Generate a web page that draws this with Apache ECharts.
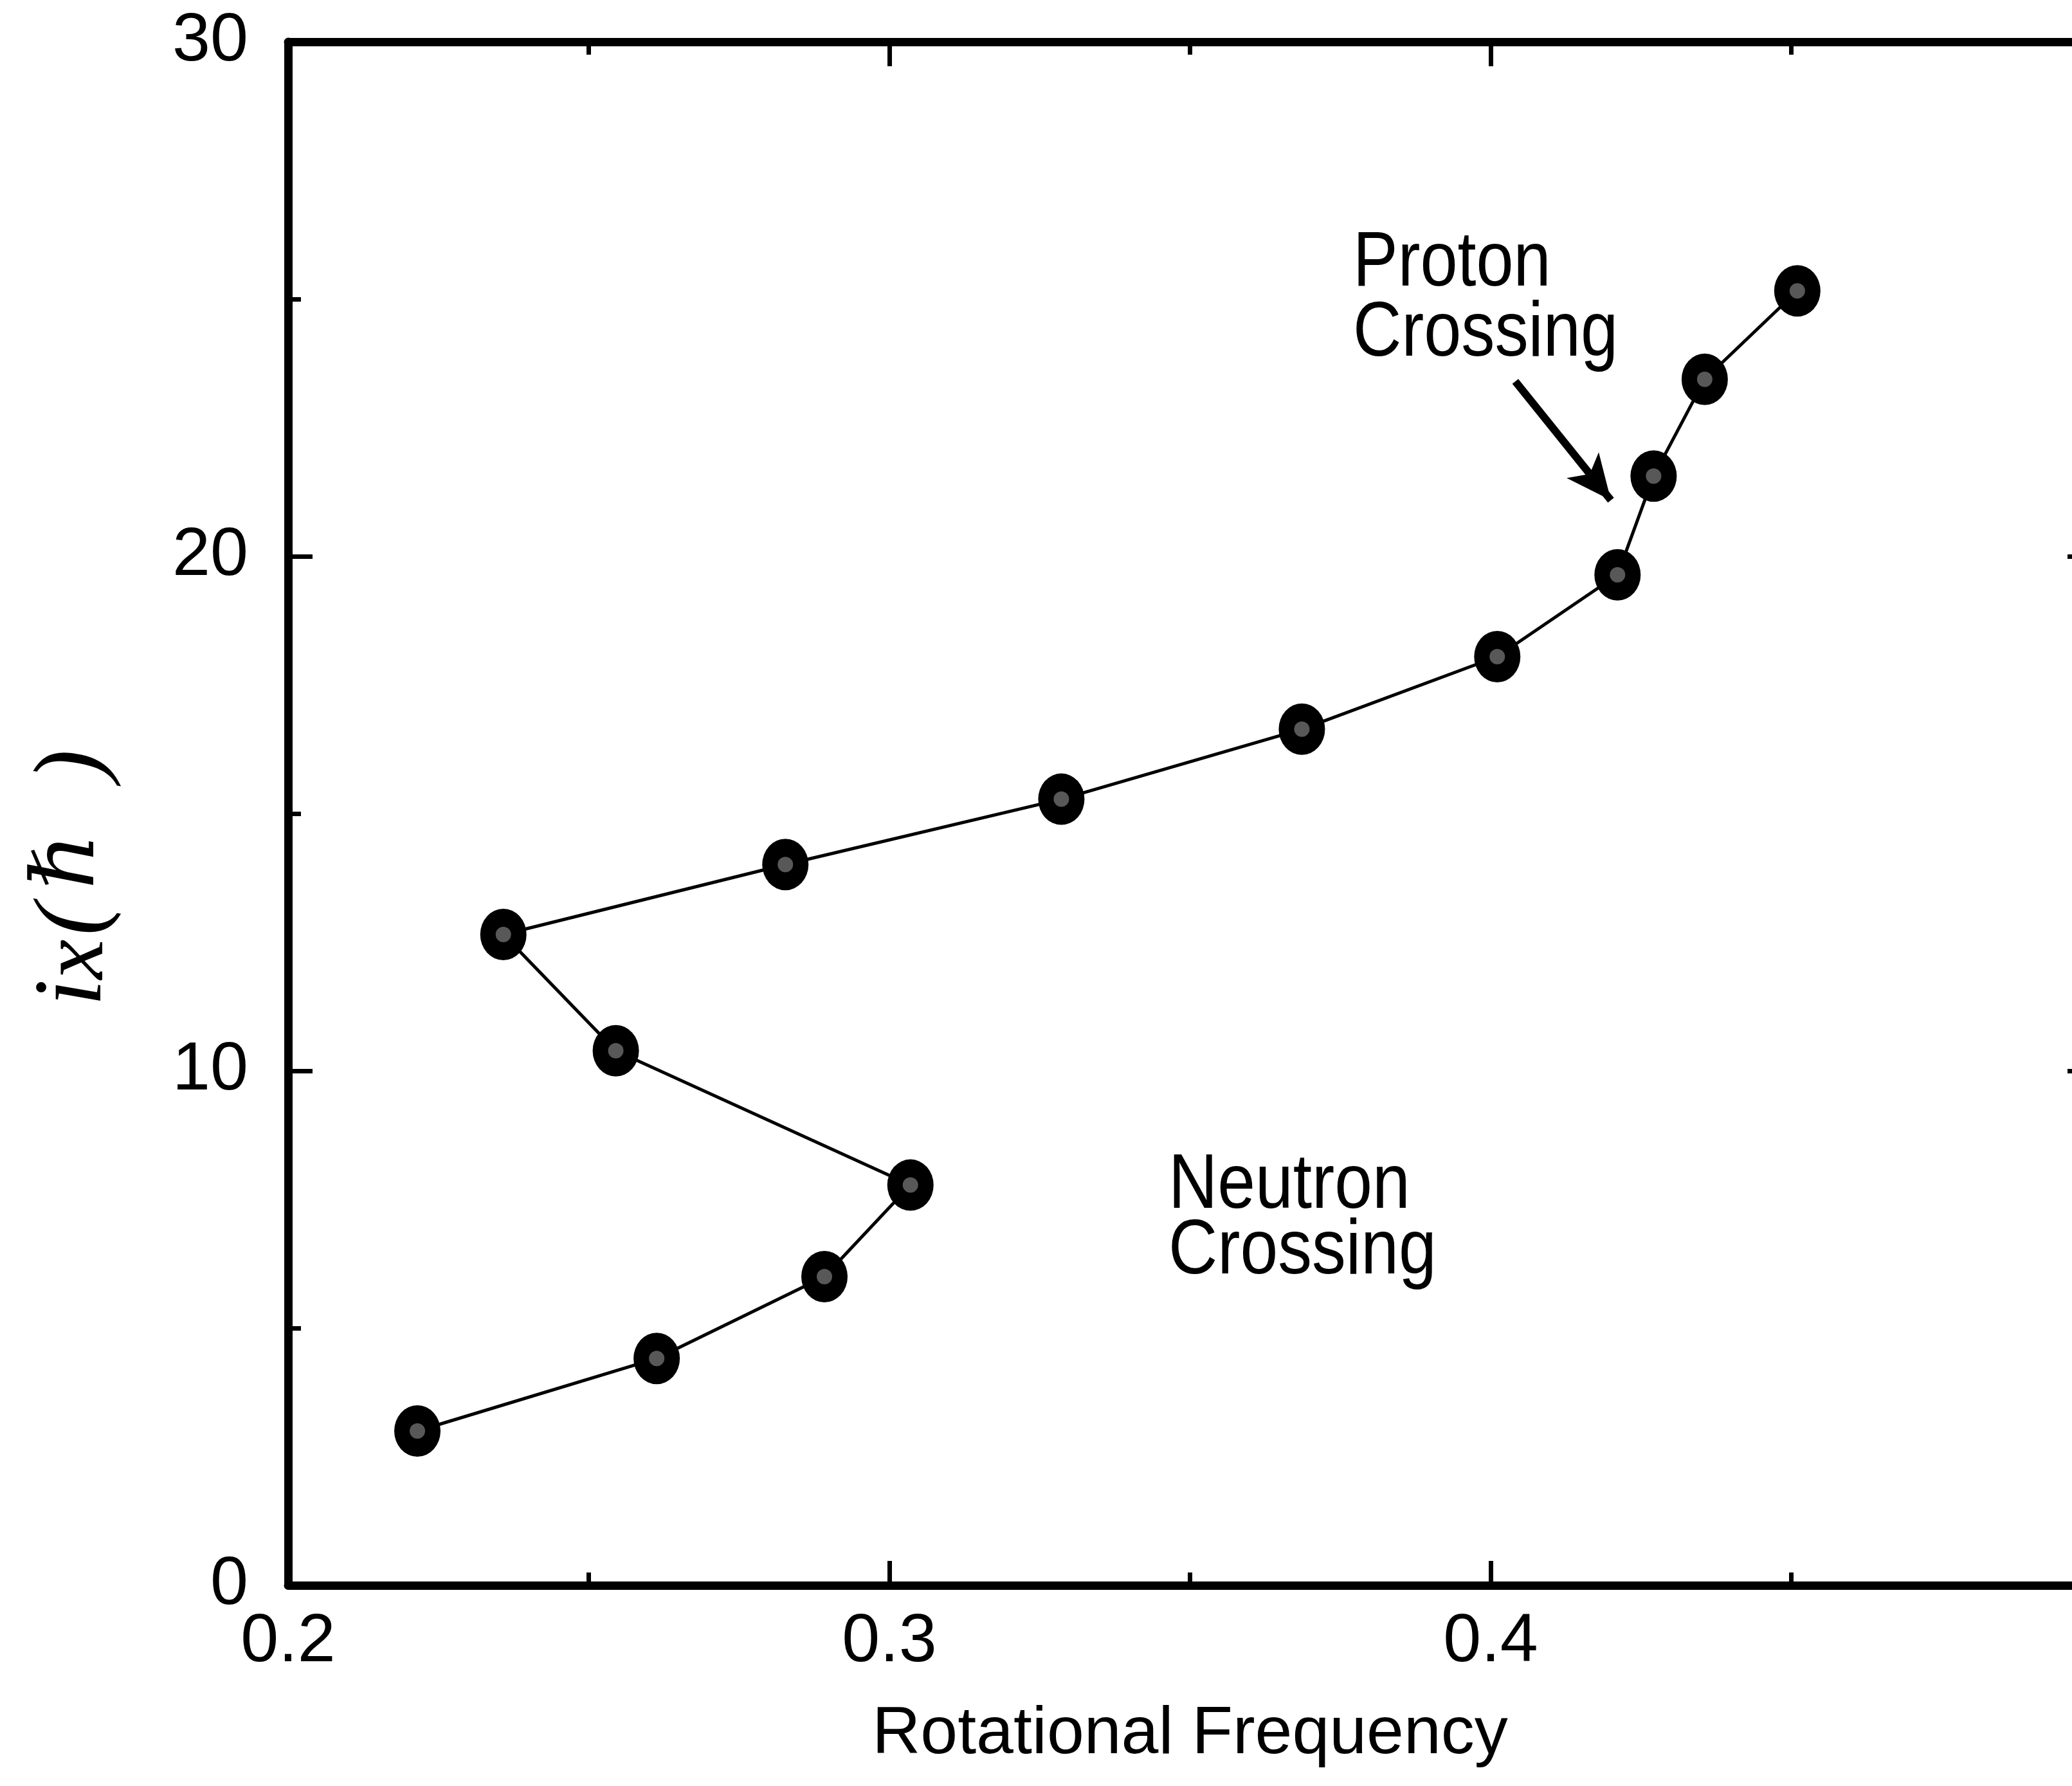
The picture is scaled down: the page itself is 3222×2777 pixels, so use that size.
<!DOCTYPE html>
<html>
<head>
<meta charset="utf-8">
<script src="https://cdn.jsdelivr.net/npm/echarts@6/dist/echarts.min.js"></script>
<style>
html,body{margin:0;padding:0;background:#fff;}
#chart{width:3222px;height:2777px;}
</style>
</head>
<body>
<div id="chart"></div>
<script>
// Rotational frequency (x) and aligned angular momentum i_x (y)
const freq = [0.2215, 0.2613, 0.2892, 0.3035, 0.2545, 0.2358, 0.2827, 0.3286, 0.3686, 0.4011, 0.4211, 0.4271, 0.4356, 0.4510];
const ix   = [3.0, 4.41, 6.0, 7.78, 10.39, 12.65, 14.01, 15.28, 16.64, 18.05, 19.64, 21.56, 23.44, 25.16];
const xTickLabels = ['0.2', '0.3', '0.4'];
const yTickLabels = ['0', '10', '20', '30'];
const arrowFrom = [0.4041, 23.4];
const arrowTo = [0.4200, 21.09];
const protonText = 'Proton\nCrossing';
const neutronText = 'Neutron\nCrossing';

const points = freq.map((f, i) => [f, ix[i]]);
const FONT = '"Liberation Sans", Arial, Helvetica, sans-serif';
const SERIF = '"Liberation Serif", "DejaVu Serif", serif';

const axisLineStyle = { color: '#000', width: 13 };
const tickStyle = { color: '#000', width: 7 };

const chart = echarts.init(document.getElementById('chart'), null, { renderer: 'canvas' });
chart.setOption({
  backgroundColor: '#fff',
  animation: false,
  grid: { left: 448, width: 2805, top: 65, bottom: 312, containLabel: false, outerBoundsMode: 'none' },
  xAxis: [
    {
      type: 'value', min: 0.2, max: 0.5, interval: 0.1, position: 'bottom',
      axisLine: { show: true, onZero: false, lineStyle: axisLineStyle },
      axisTick: { show: true, inside: true, length: 38, lineStyle: tickStyle },
      minorTick: { show: true, splitNumber: 2, length: 20, lineStyle: tickStyle },
      splitLine: { show: false },
      axisLabel: {
        show: true, margin: 36, color: '#000', fontFamily: FONT, fontSize: 106,
        formatter: v => { const s = v.toFixed(1); return xTickLabels.indexOf(s) >= 0 ? s : ''; }
      },
      name: 'Rotational Frequency', nameLocation: 'middle', nameGap: 180,
      nameTextStyle: { color: '#000', fontFamily: FONT, fontSize: 104 }
    },
    {
      type: 'value', min: 0.2, max: 0.5, interval: 0.1, position: 'top',
      axisLine: { show: true, onZero: false, lineStyle: axisLineStyle },
      axisTick: { show: true, inside: true, length: 38, lineStyle: tickStyle },
      minorTick: { show: true, splitNumber: 2, length: 20, lineStyle: tickStyle },
      splitLine: { show: false },
      axisLabel: { show: false }
    }
  ],
  yAxis: [
    {
      type: 'value', min: 0, max: 30, interval: 10, position: 'left',
      axisLine: { show: true, onZero: false, lineStyle: axisLineStyle },
      axisTick: { show: true, inside: true, length: 38, lineStyle: tickStyle },
      minorTick: { show: true, splitNumber: 2, length: 20, lineStyle: tickStyle },
      splitLine: { show: false },
      axisLabel: {
        show: true, margin: 62, color: '#000', fontFamily: FONT, fontSize: 106,
        formatter: v => { const s = String(Math.round(v)); return yTickLabels.indexOf(s) >= 0 ? s : ''; }
      },
      name: '{i|i}{x|x}{p|(}{h|ℏ}{p|)}', nameLocation: 'middle', nameGap: 256, nameRotate: 90,
      nameTextStyle: {
        color: '#000',
        padding: [0, 200, 0, 0],
        rich: {
          i: { fontFamily: SERIF, fontStyle: 'italic', fontSize: 150, lineHeight: 150, verticalAlign: 'top', color: '#000' },
          x: { fontFamily: SERIF, fontStyle: 'italic', fontSize: 140, lineHeight: 140, padding: [40, 6, 0, 0], verticalAlign: 'bottom', color: '#000' },
          p: { fontFamily: SERIF, fontStyle: 'italic', fontSize: 150, lineHeight: 150, verticalAlign: 'top', color: '#000' },
          h: { fontFamily: '"DejaVu Serif", serif', fontStyle: 'italic', fontSize: 135, lineHeight: 150, padding: [0, 80, 0, 22], verticalAlign: 'top', color: '#000' }
        }
      }
    },
    {
      type: 'value', min: 0, max: 30, interval: 10, position: 'right',
      axisLine: { show: true, onZero: false, lineStyle: axisLineStyle },
      axisTick: { show: true, inside: true, length: 38, lineStyle: tickStyle },
      minorTick: { show: true, splitNumber: 2, length: 20, lineStyle: tickStyle },
      splitLine: { show: false },
      axisLabel: { show: false }
    }
  ],
  series: [
    {
      type: 'line', data: points, xAxisIndex: 0, yAxisIndex: 0, z: 2,
      symbol: 'circle', symbolSize: [72, 80], silent: true,
      lineStyle: { color: '#000', width: 5 },
      itemStyle: { color: '#000' },
      emphasis: { disabled: true },
      markLine: {
        silent: true, symbol: ['none', 'arrow'], symbolSize: [48, 70],
        lineStyle: { color: '#000', width: 12, type: 'solid' },
        label: { show: false },
        emphasis: { disabled: true },
        data: [[{ coord: arrowFrom }, { coord: arrowTo }]]
      }
    },
    {
      type: 'scatter', data: points, xAxisIndex: 0, yAxisIndex: 0, z: 5,
      symbol: 'circle', symbolSize: 24, silent: true,
      itemStyle: { color: '#6e6e6e' },
      emphasis: { disabled: true }
    }
  ],
  graphic: [
    {
      type: 'text', x: 2104, y: 356, scaleX: 0.87, silent: true,
      style: { text: protonText, fill: '#000', font: '120px ' + FONT, lineHeight: 109 }
    },
    {
      type: 'text', x: 1817, y: 1794, scaleX: 0.88, silent: true,
      style: { text: neutronText, fill: '#000', font: '120px ' + FONT, lineHeight: 102 }
    }
  ]
});
</script>
</body>
</html>
